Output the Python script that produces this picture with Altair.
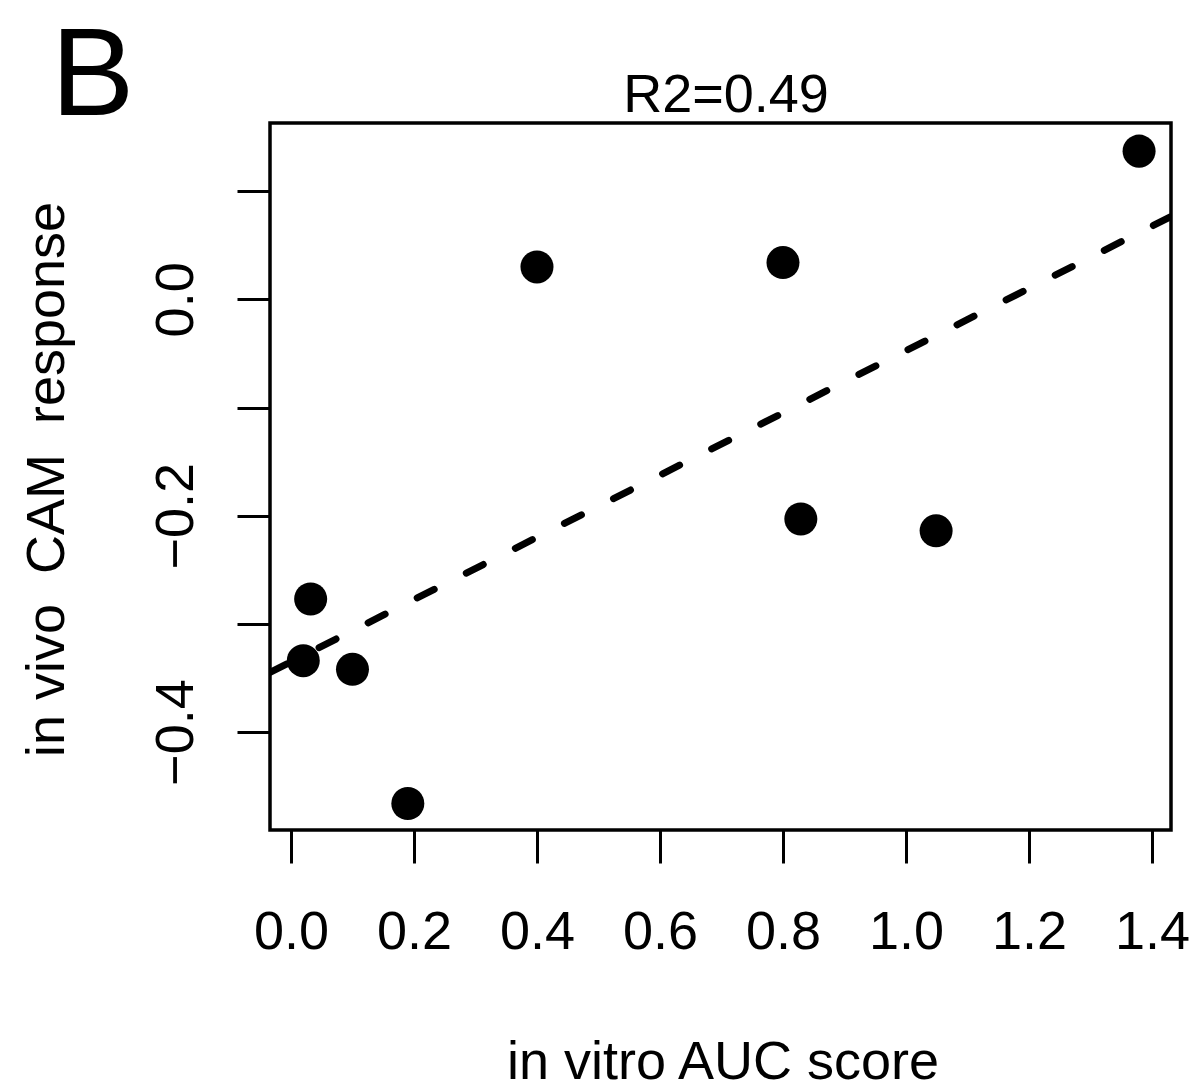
import altair as alt
import pandas as pd

# values
auc_score = [0.032, 0.020, 0.100, 0.190, 0.400, 0.800, 0.829, 1.049, 1.379]
cam_response = [-0.277, -0.334, -0.342, -0.466, 0.030, 0.034, -0.203, -0.214, 0.137]
x_ticks = [0.0, 0.2, 0.4, 0.6, 0.8, 1.0, 1.2, 1.4]
y_ticks = [-0.4, -0.3, -0.2, -0.1, 0.0, 0.1]
x_domain = [-0.0341, 1.4309]
y_domain = [-0.4905, 0.1630]
panel_label = ["B"]
r2_label = ["R2=0.49"]
x_title = "in vitro AUC score"
y_title = "in vivo\u00a0\u00a0CAM\u00a0\u00a0response"

FONT = "Liberation Sans"

df = pd.DataFrame({"auc": auc_score, "cam": cam_response})

x_enc = alt.X(
    "auc:Q",
    scale=alt.Scale(domain=x_domain, nice=False, zero=False),
    axis=alt.Axis(
        values=x_ticks, format=".1f", title=x_title,
        domain=False, grid=False, ticks=True, tickSize=33, tickWidth=3,
        tickColor="black", labelFont=FONT, labelFontSize=54, labelColor="black",
        labelPadding=85, labelBaseline="alphabetic", labelAlign="center",
        labelFlush=False, labelOverlap=False,
        titleFont=FONT, titleFontSize=54, titleFontWeight="normal",
        titleColor="black", titleX=452.5, titleY=248,
        titleBaseline="alphabetic", titleAlign="center",
    ),
)
y_enc = alt.Y(
    "cam:Q",
    scale=alt.Scale(domain=y_domain, nice=False, zero=False),
    axis=alt.Axis(
        values=y_ticks, format=".1f", title=y_title,
        labelExpr="abs(round(datum.value*10)) % 2 == 1 ? '' : datum.label",
        domain=False, grid=False, ticks=True, tickSize=33, tickWidth=3,
        tickColor="black", labelFont=FONT, labelFontSize=54, labelColor="black",
        labelPadding=45, labelAngle=270, labelBaseline="alphabetic",
        labelAlign="center", labelFlush=False, labelOverlap=False,
        titleFont=FONT, titleFontSize=54, titleFontWeight="normal",
        titleColor="black", titleAngle=270, titleX=-207, titleY=356,
        titleBaseline="alphabetic", titleAlign="center",
    ),
)

base = alt.Chart(df)

line = base.transform_regression(
    "auc", "cam", extent=x_domain
).mark_line(
    color="black", strokeWidth=7, strokeDash=[19, 36], strokeCap="round", clip=True
).encode(x=x_enc, y=y_enc)

points = base.mark_circle(size=1090, color="black", opacity=1).encode(x=x_enc, y=y_enc)

panel = alt.Chart(pd.DataFrame({"t": panel_label})).mark_text(
    font=FONT, fontSize=125, align="left", baseline="alphabetic", color="black"
).encode(text="t:N", x=alt.value(-219), y=alt.value(-8))

r2 = alt.Chart(pd.DataFrame({"t": r2_label})).mark_text(
    font=FONT, fontSize=54, align="center", baseline="alphabetic", color="black"
).encode(text="t:N", x=alt.value(456), y=alt.value(-11))

chart = alt.layer(line, points, panel, r2).properties(
    width=901,
    height=707,
    autosize=alt.AutoSizeParams(type="none"),
    padding={"left": 270, "top": 123, "right": 27, "bottom": 260},
    background="white",
).configure_view(stroke="black", strokeWidth=3.5)

chart.save("out.html", embed_options={"renderer": "svg", "actions": False})
